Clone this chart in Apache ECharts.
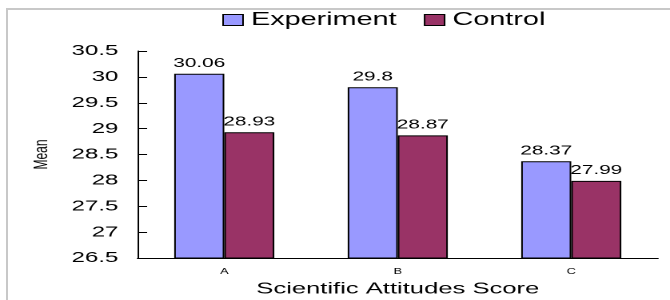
<!DOCTYPE html>
<html>
<head>
    <meta http-equiv="Content-Type" content="text/html; charset=utf-8"/>
    <script type="text/javascript" src="https://cdn.jsdelivr.net/npm/echarts@6/dist/echarts.min.js"></script>
    <style>
        html, body { margin: 0; padding: 0; background: #fff; overflow: hidden; }
        #frame {
            position: absolute; left: 6px; top: 8px; width: 670px; height: 300px;
            border-left: 2px solid #c8c8c8; border-top: 2px solid #c8c8c8;
        }
        /* 原图是被横向拉伸过的，这里同样横向拉伸 */
        #main {
            position: absolute; left: 0; top: 0; width: 419px; height: 300px;
            transform-origin: 0 0; transform: scaleX(1.599);
        }
    </style>
</head>
<body>
<div id="frame"></div>
<div id="main"></div>
<script type="text/javascript">
    // 数据
    var categories = ['A', 'B', 'C'];
    var experiment = [30.06, 29.8, 28.37];
    var control = [28.93, 28.87, 27.99];
    var yMin = 26.5, yMax = 30.5, yStep = 0.5;

    var myChart = echarts.init(document.getElementById('main'), null, { devicePixelRatio: 2 });
    var font = '"Liberation Sans", Arial, sans-serif';

    var option = {
        animation: false,
        textStyle: { fontFamily: font, color: '#000' },
        legend: {
            data: ['Experiment', 'Control'],
            left: 134, top: 6,
            icon: 'rect',
            itemWidth: 12.5, itemHeight: 11, itemGap: 17,
            itemStyle: { borderColor: '#000', borderWidth: 1 },
            textStyle: { fontSize: 18, color: '#000', fontFamily: font }
        },
        grid: { left: 86, right: 7.5, top: 51, bottom: 42, containLabel: false, outerBoundsMode: 'none' },
        xAxis: {
            type: 'category',
            data: categories,
            name: 'Scientific Attitudes Score',
            nameLocation: 'middle',
            nameGap: 18,
            nameTextStyle: { fontSize: 16, color: '#000', fontFamily: font },
            axisLine: { lineStyle: { color: '#000', width: 1 } },
            axisTick: { inside: true, length: 4, lineStyle: { color: '#000' } },
            axisLabel: { fontSize: 8, color: '#000', margin: 10 }
        },
        yAxis: {
            type: 'value',
            min: yMin, max: yMax, interval: yStep,
            name: 'Mean',
            nameLocation: 'middle',
            nameGap: 54,
            nameTextStyle: { fontSize: 12, color: '#000', fontFamily: font },
            axisLine: { show: true, lineStyle: { color: '#000', width: 1 } },
            axisTick: { show: true, inside: true, length: 6, lineStyle: { color: '#000' } },
            axisLabel: { fontSize: 15, color: '#000', margin: 12 },
            splitLine: { show: false }
        },
        series: [{
            name: 'Experiment',
            type: 'bar',
            data: experiment,
            barWidth: 31.3,
            barGap: '0%',
            itemStyle: { color: '#9999ff', borderColor: '#000', borderWidth: 1 },
            label: { show: true, position: 'top', distance: 4, fontSize: 13, color: '#000' }
        }, {
            name: 'Control',
            type: 'bar',
            data: control,
            barWidth: 31.3,
            barGap: '0%',
            itemStyle: { color: '#993366', borderColor: '#000', borderWidth: 1 },
            label: { show: true, position: 'top', distance: 4, fontSize: 13, color: '#000' }
        }]
    };
    myChart.setOption(option);
</script>
</body>
</html>
